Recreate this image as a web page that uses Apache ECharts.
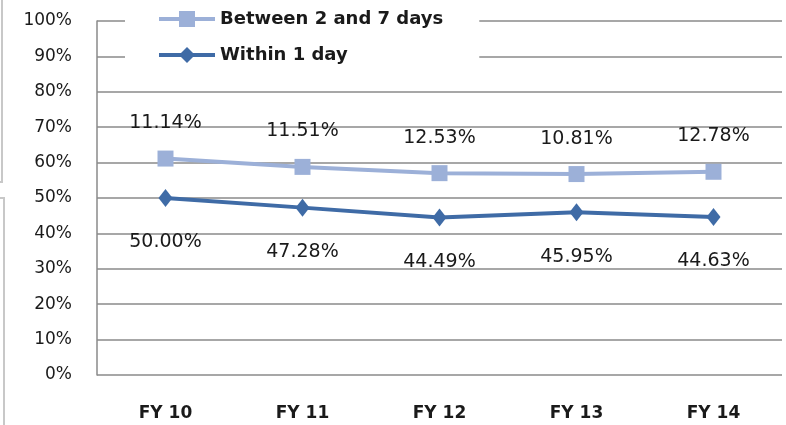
<!DOCTYPE html>
<html>
<head>
<meta charset="utf-8">
<script src="https://cdn.jsdelivr.net/npm/echarts@6/dist/echarts.min.js"></script>
<style>html,body{margin:0;padding:0;background:#fff}#c{width:786px;height:425px}</style>
</head>
<body>
<div id="c"></div>
<script>
const categories = ['FY 10', 'FY 11', 'FY 12', 'FY 13', 'FY 14'];
const within1Day = [50.00, 47.28, 44.49, 45.95, 44.63];
const between2And7 = [11.14, 11.51, 12.53, 10.81, 12.78];
const yTicks = [0, 10, 20, 30, 40, 50, 60, 70, 80, 90, 100];

const FONT = 'DejaVu Sans';
const chart = echarts.init(document.getElementById('c'), null, {renderer: 'canvas'});
chart.setOption({
  animation: false,
  backgroundColor: '#fff',
  grid: {left: 97, right: 4, top: 21, bottom: 50, containLabel: false},
  legend: {
    orient: 'vertical', left: 125, top: 0,
    padding: [10, 36, 14, 32],
    backgroundColor: '#fff',
    itemWidth: 56, itemHeight: 20, itemGap: 18,
    lineStyle: {width: 4},
    data: ['Between 2 and 7 days', 'Within 1 day'],
    textStyle: {fontFamily: FONT, fontSize: 18, fontWeight: 'bold', color: '#1a1a1a'}
  },
  xAxis: {
    type: 'category', data: categories, boundaryGap: true,
    axisLine: {show: false}, axisTick: {show: false},
    axisLabel: {margin: 30, fontFamily: FONT, fontSize: 17, fontWeight: 'bold', color: '#1a1a1a'}
  },
  yAxis: {
    type: 'value', min: 0, max: 100, interval: 10,
    axisLine: {show: true, lineStyle: {color: '#8a8a8a', width: 1.5}},
    axisTick: {show: false},
    axisLabel: {margin: 25, fontFamily: FONT, fontSize: 17, color: '#1a1a1a',
      formatter: v => yTicks.includes(v) ? v + '%' : ''},
    splitLine: {show: true, lineStyle: {color: '#8a8a8a', width: 1.5}}
  },
  series: [
    {
      name: 'Within 1 day', type: 'line', stack: 'total', data: within1Day,
      symbol: 'diamond', symbolSize: [14, 18],
      lineStyle: {color: '#3f6ba6', width: 4},
      itemStyle: {color: '#3f6ba6'},
      label: {show: true, position: 'bottom', distance: 26,
        formatter: p => p.value.toFixed(2) + '%',
        fontFamily: FONT, fontSize: 19, color: '#1a1a1a'},
      z: 3
    },
    {
      name: 'Between 2 and 7 days', type: 'line', stack: 'total', data: between2And7,
      symbol: 'rect', symbolSize: 16,
      lineStyle: {color: '#9cb0d8', width: 4},
      itemStyle: {color: '#9cb0d8'},
      label: {show: true, position: 'top', distance: 18,
        formatter: p => p.value.toFixed(2) + '%',
        fontFamily: FONT, fontSize: 19, color: '#1a1a1a'},
      z: 2
    }
  ],
  graphic: [
    {type: 'polyline', shape: {points: [[2, 0], [2, 182], [0, 182]]}, style: {stroke: '#c8c8c8', lineWidth: 2, fill: null}},
    {type: 'polyline', shape: {points: [[0, 198], [4, 198], [4, 425]]}, style: {stroke: '#c8c8c8', lineWidth: 2, fill: null}}
  ]
});
</script>
</body>
</html>
